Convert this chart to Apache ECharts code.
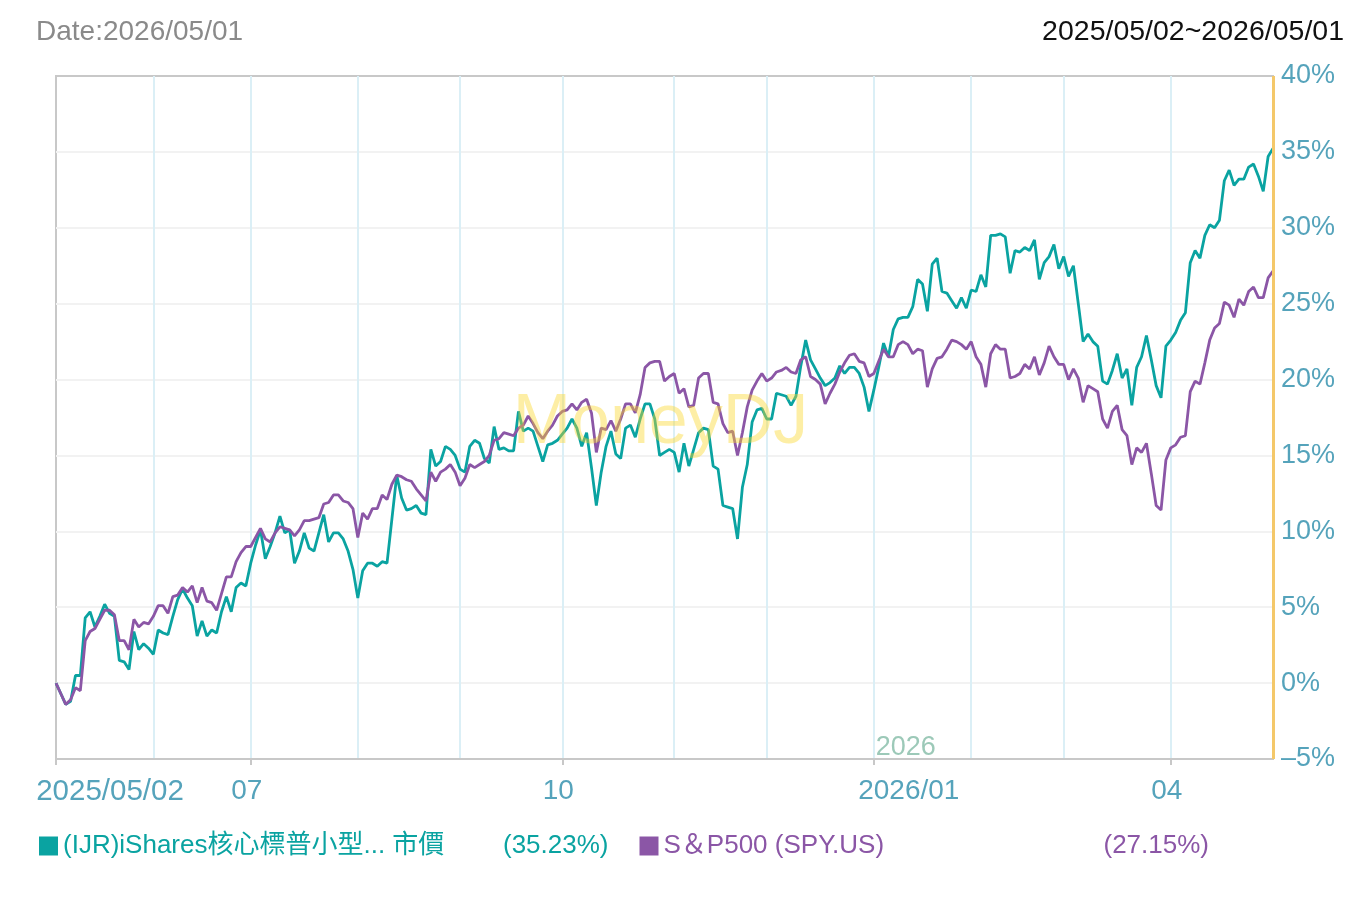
<!DOCTYPE html>
<html>
<head>
<meta charset="utf-8">
<script src="https://cdn.jsdelivr.net/npm/echarts@6/dist/echarts.min.js"></script>
<style>
  html, body { margin: 0; padding: 0; background: #fff; }
  #chart { width: 1366px; height: 912px; }
</style>
</head>
<body>
<div id="chart"></div>
<script>
// ---------- DATA ----------
const seriesNames = ['(IJR)iShares核心標普小型... 市價', 'S＆P500 (SPY.US)'];
const seriesColors = ['#0aa3a1', '#8b56a6'];

// US market holidays inside the period (used to build the trading-day categories)
const holidays = ['2025/05/26','2025/06/19','2025/07/04','2025/09/01','2025/11/27',
                  '2025/12/25','2026/01/01','2026/01/19','2026/02/16','2026/04/03'];
const startDate = '2025/05/02';
const endDate = '2026/05/01';

// x-axis tick labels
const xTickDates  = ['2025/05/02', '2025/07/01', '2025/10/01', '2026/01/02', '2026/04/01'];
const xTickLabels = ['2025/05/02', '07', '10', '2026/01', '04'];
const yearMarkDate = '2026/01/02';
const yearMarkLabel = '2026';

// cumulative return (%) - IJR
const ijr = [
  0.0,-0.7,-1.4,-1.2,0.5,0.5,4.3,4.7,3.7,4.4,
  5.2,4.6,4.4,1.5,1.4,0.9,3.4,2.2,2.6,2.3,
  1.9,3.5,3.3,3.2,4.4,5.5,6.2,5.6,5.1,3.1,
  4.1,3.1,3.5,3.3,4.7,5.7,4.7,6.3,6.6,6.4,
  7.9,9.1,10.1,8.2,9.0,9.9,11.0,9.9,10.1,7.9,
  8.7,9.9,8.9,8.7,9.9,11.1,9.3,9.9,9.9,9.5,
  8.7,7.5,5.6,7.4,7.9,7.9,7.7,8.0,7.9,10.8,
  13.7,12.2,11.4,11.5,11.7,11.2,11.1,15.4,14.3,14.6,
  15.6,15.4,15.0,14.1,13.9,15.6,16.0,15.8,14.8,14.5,
  16.9,15.4,15.5,15.3,15.3,17.9,16.6,16.8,16.6,15.6,
  14.6,15.7,15.8,16.0,16.4,16.8,17.4,16.8,15.6,16.5,
  14.2,11.7,13.9,15.6,16.6,15.1,14.8,16.8,17.0,16.2,
  17.4,18.4,18.4,17.4,15.0,15.2,15.4,15.2,13.9,15.8,
  14.3,15.4,16.5,16.8,16.7,14.3,14.1,11.7,11.6,11.5,
  9.5,12.9,14.4,17.2,18.0,18.1,17.4,17.4,19.1,19.0,
  18.9,18.3,18.9,20.9,22.6,21.3,20.7,20.1,19.6,19.8,
  20.1,20.9,20.4,20.8,20.8,20.4,19.5,17.9,19.3,20.8,
  22.4,21.5,23.3,24.0,24.1,24.1,24.8,26.6,26.3,24.5,
  27.6,28.0,25.8,25.7,25.2,24.7,25.4,24.7,25.9,25.8,
  26.9,26.1,29.5,29.5,29.6,29.4,27.0,28.5,28.4,28.7,
  28.5,29.2,26.6,27.7,28.1,28.9,27.3,28.1,26.8,27.5,
  25.0,22.5,23.0,22.5,22.2,19.9,19.7,20.6,21.7,20.1,
  20.7,18.3,20.8,21.5,22.9,21.3,19.6,18.8,22.2,22.6,
  23.1,23.9,24.4,27.7,28.5,28.0,29.5,30.2,30.0,30.5,
  33.1,33.8,32.8,33.2,33.2,34.0,34.2,33.4,32.4,34.7,
  35.23
];

// cumulative return (%) - SPY
const spy = [
  0.0,-0.7,-1.4,-1.1,-0.3,-0.5,2.8,3.4,3.6,4.2,
  4.8,4.8,4.5,2.8,2.8,2.2,4.2,3.7,4.0,3.9,
  4.4,5.1,5.1,4.6,5.7,5.8,6.3,6.0,6.4,5.3,
  6.3,5.4,5.3,4.8,5.9,7.0,7.0,8.0,8.6,9.0,
  9.0,9.6,10.2,9.5,9.3,9.9,10.3,10.2,10.1,9.7,
  10.1,10.7,10.7,10.8,10.9,11.8,11.9,12.4,12.4,12.0,
  11.9,11.5,9.6,11.2,10.8,11.5,11.5,12.4,12.1,13.1,
  13.7,13.6,13.4,13.3,12.8,12.4,12.0,13.9,13.3,13.9,
  14.1,14.4,13.9,13.0,13.5,14.4,14.2,14.4,14.6,15.0,
  16.0,16.1,16.5,16.4,16.3,16.8,17.0,17.6,17.1,16.5,
  16.1,16.6,17.0,17.6,17.9,18.0,18.4,18.0,18.5,18.7,
  17.8,15.2,16.8,16.7,17.3,16.6,17.4,18.4,18.4,17.8,
  19.0,20.8,21.1,21.2,21.2,19.9,20.2,20.4,19.1,19.4,
  18.2,18.3,20.1,20.4,20.4,18.5,18.4,17.1,16.5,16.6,
  15.0,16.5,18.2,19.3,19.9,20.4,19.9,20.1,20.5,20.6,
  20.8,20.5,20.4,21.3,21.5,20.2,20.0,19.7,18.4,19.1,
  19.7,20.5,21.1,21.6,21.7,21.2,21.1,20.2,20.4,21.2,
  22.0,21.5,21.5,22.3,22.5,22.3,21.7,22.0,21.9,19.5,
  20.7,21.4,21.5,22.0,22.6,22.5,22.3,22.0,22.5,21.5,
  21.0,19.5,21.7,22.3,22.0,22.0,20.1,20.2,20.4,21.0,
  20.7,21.5,20.3,21.1,22.2,21.5,21.0,21.0,20.0,20.7,
  20.1,18.5,19.6,19.4,19.2,17.4,16.8,17.9,18.3,16.7,
  16.3,14.4,15.5,15.2,15.8,13.8,11.7,11.4,14.7,15.5,
  15.7,16.2,16.3,19.2,19.9,19.7,21.1,22.6,23.4,23.7,
  25.1,24.9,24.1,25.3,24.9,25.8,26.1,25.4,25.4,26.7,
  27.15
];

// ---------- BUILD CATEGORIES (trading days) ----------
function fmt(d) {
  const p = n => String(n).padStart(2, '0');
  return d.getUTCFullYear() + '/' + p(d.getUTCMonth() + 1) + '/' + p(d.getUTCDate());
}
function tradingDays(s, e, hol) {
  const [sy, sm, sd] = s.split('/').map(Number);
  const [ey, em, ed] = e.split('/').map(Number);
  const d = new Date(Date.UTC(sy, sm - 1, sd));
  const end = new Date(Date.UTC(ey, em - 1, ed));
  const out = [];
  while (d <= end) {
    const wd = d.getUTCDay();
    const str = fmt(d);
    if (wd !== 0 && wd !== 6 && hol.indexOf(str) < 0) out.push(str);
    d.setUTCDate(d.getUTCDate() + 1);
  }
  return out;
}
const categories = tradingDays(startDate, endDate, holidays);

const monthStart = new Set();
categories.forEach((c, i) => {
  if (i > 0 && c.slice(0, 7) !== categories[i - 1].slice(0, 7)) monthStart.add(i);
});
const tickIndex = new Map();
xTickDates.forEach((d, k) => tickIndex.set(categories.indexOf(d), xTickLabels[k]));

const lastValues = [ijr[ijr.length - 1], spy[spy.length - 1]];
const legendPct = lastValues.map(v => '(' + v.toFixed(2) + '%)');

// ---------- CHART ----------
const FONT = '"Liberation Sans", "Noto Sans CJK TC", sans-serif';
const AXIS_COLOR = '#55a3bb';
const chart = echarts.init(document.getElementById('chart'), null, { renderer: 'canvas' });

const option = {
  animation: false,
  backgroundColor: '#fff',
  textStyle: { fontFamily: FONT },
  title: [
    { text: 'Date:2026/05/01', left: 31, top: 13,
      textStyle: { fontSize: 28, fontWeight: 'normal', color: '#8a8a8a', fontFamily: FONT } },
    { text: startDate + '~' + endDate, right: 17, top: 13,
      textStyle: { fontSize: 28.5, fontWeight: 'normal', color: '#111', fontFamily: FONT } }
  ],
  grid: { left: 56, right: 93, top: 76, bottom: 153, show: true,
          borderColor: '#c8c8c8', borderWidth: 2, backgroundColor: 'transparent' },
  legend: {
    left: 39, top: 833, padding: 0, itemWidth: 19, itemHeight: 19, itemGap: 31, icon: 'rect',
    selectedMode: false,
    data: seriesNames.map((n, i) => ({ name: n, textStyle: { color: seriesColors[i] } })),
    formatter: function (name) {
      const i = seriesNames.indexOf(name);
      return '{n|' + name + '}{p|' + legendPct[i] + '}';
    },
    textStyle: {
      fontSize: 26, fontFamily: FONT,
      rich: { n: { width: 440, fontSize: 26, fontFamily: FONT }, p: { width: 120, fontSize: 26, fontFamily: FONT } }
    }
  },
  xAxis: {
    type: 'category', data: categories, boundaryGap: false,
    axisLine: { onZero: false, lineStyle: { color: '#c8c8c8', width: 2 } },
    axisTick: { show: true, length: 6, interval: (i) => tickIndex.has(i),
                lineStyle: { color: '#c8c8c8', width: 2 } },
    axisLabel: {
      interval: (i) => tickIndex.has(i),
      color: AXIS_COLOR, fontSize: 28, margin: 18, fontFamily: FONT,
      formatter: function (v, i) {
        const lab = tickIndex.get(i);
        if (lab === undefined) return '';
        if (lab.length === 10) return '{a|' + lab + '}';
        if (lab.length === 7) return '{b|' + lab + '}';
        return '{c|' + lab + '}';
      },
      rich: {
        a: { padding: [0, 0, 0, 108], color: AXIS_COLOR, fontSize: 29.5, fontFamily: FONT },
        b: { padding: [0, 0, 0, 70], color: AXIS_COLOR, fontSize: 28, fontFamily: FONT },
        c: { padding: [0, 8, 0, 0], color: AXIS_COLOR, fontSize: 28, fontFamily: FONT }
      }
    },
    splitLine: { show: true, interval: (i) => monthStart.has(i),
                 lineStyle: { color: '#dbeff6', width: 2 } }
  },
  yAxis: {
    type: 'value', position: 'right', min: -5, max: 40, interval: 5,
    axisLine: { show: false }, axisTick: { show: false },
    axisLabel: { color: AXIS_COLOR, fontSize: 27, margin: 8, fontFamily: FONT,
                 formatter: v => (v < 0 ? '–' : '') + Math.abs(v) + '%' },
    splitLine: { showMinLine: false, showMaxLine: false, lineStyle: { color: '#f2f2f2', width: 2 } }
  },
  series: [
    { name: seriesNames[0], type: 'line', data: ijr, showSymbol: false, symbol: 'none',
      lineStyle: { width: 2.8, color: seriesColors[0] }, itemStyle: { color: seriesColors[0] } },
    { name: seriesNames[1], type: 'line', data: spy, showSymbol: false, symbol: 'none',
      lineStyle: { width: 2.8, color: seriesColors[1] }, itemStyle: { color: seriesColors[1] },
      markLine: { silent: true, symbol: 'none', animation: false, label: { show: false },
                  lineStyle: { color: '#f4c86a', width: 3, type: 'solid' },
                  data: [{ xAxis: categories[categories.length - 1] }] } }
  ]
};
chart.setOption(option);

// year marker and watermark positioned from the axis scales
const yearX = chart.convertToPixel({ xAxisIndex: 0 }, yearMarkDate);
const yearY = chart.convertToPixel({ yAxisIndex: 0 }, -5);
const midX = (chart.convertToPixel({ xAxisIndex: 0 }, categories[0]) +
              chart.convertToPixel({ xAxisIndex: 0 }, categories[categories.length - 1])) / 2;
const midY = (chart.convertToPixel({ yAxisIndex: 0 }, -5) + chart.convertToPixel({ yAxisIndex: 0 }, 40)) / 2;
chart.setOption({
  graphic: [
    { type: 'text', id: 'year', x: yearX + 2, y: yearY - 11, z: 50,
      style: { text: yearMarkLabel, fill: '#9cc9b8', fontSize: 27, fontFamily: FONT,
               textAlign: 'left', textVerticalAlign: 'middle' } },
    { type: 'text', id: 'wm', x: midX - 4, y: midY + 6, z: 100, silent: true,
      style: { text: 'MoneyDJ', fill: 'rgba(250, 214, 40, 0.42)', fontSize: 70, fontFamily: FONT,
               textAlign: 'center', textVerticalAlign: 'middle' } }
  ]
});
</script>
</body>
</html>
